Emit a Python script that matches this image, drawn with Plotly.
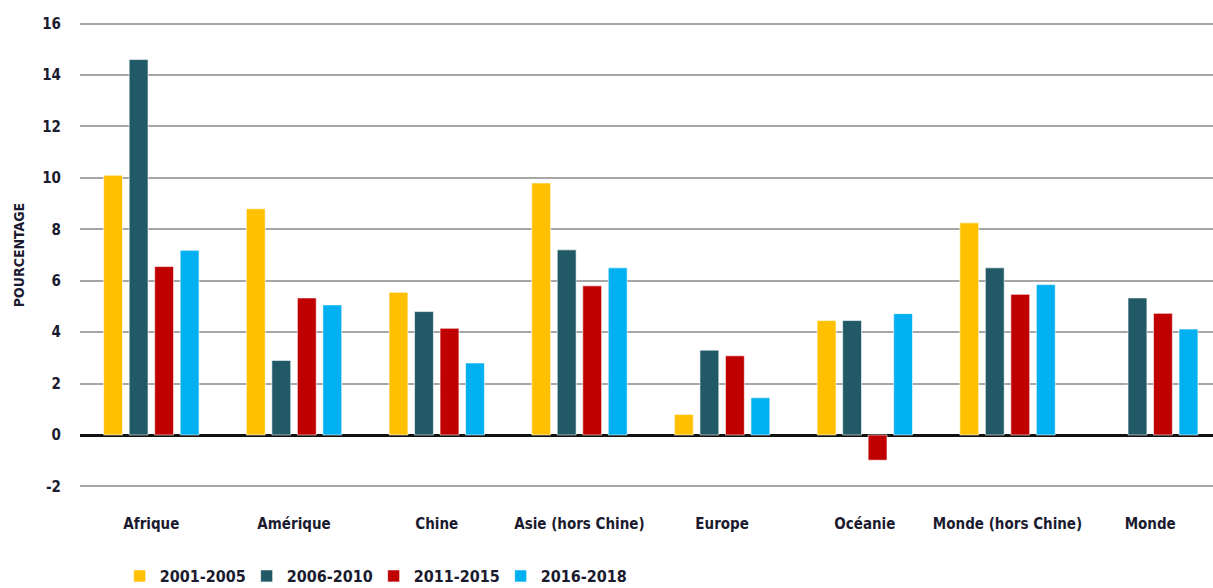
import plotly.graph_objects as go

regions = ["Afrique", "Amérique", "Chine", "Asie (hors Chine)", "Europe",
           "Océanie", "Monde (hors Chine)", "Monde"]
p2001_2005 = [10.1, 8.8, 5.55, 9.8, 0.8, 4.45, 8.25, None]
p2006_2010 = [14.6, 2.9, 4.8, 7.2, 3.3, 4.45, 6.5, 5.33]
p2011_2015 = [6.55, 5.33, 4.15, 5.8, 3.08, -0.98, 5.47, 4.73]
p2016_2018 = [7.18, 5.06, 2.8, 6.5, 1.45, 4.72, 5.85, 4.12]

y_tick_values = [-2, 0, 2, 4, 6, 8, 10, 12, 14, 16]
y_tick_labels = ["-2", "0", "2", "4", "6", "8", "10", "12", "14", "16"]

series = [
    ("2001-2005", p2001_2005, "#FFC000"),
    ("2006-2010", p2006_2010, "#215967"),
    ("2011-2015", p2011_2015, "#C00000"),
    ("2016-2018", p2016_2018, "#00B0F0"),
]

font_family = "DejaVu Sans Condensed, Liberation Sans Narrow, Arial Narrow, sans-serif"
text_color = "#1b1b2f"

fig = go.Figure()
for name, vals, color in series:
    fig.add_trace(go.Bar(
        x=regions, y=vals, name=name,
        marker=dict(color=color, line=dict(color="rgba(255,255,255,0.6)", width=1)),
    ))

fig.update_layout(
    width=1213, height=588,
    margin=dict(l=80, r=0, t=21, b=99, autoexpand=False),
    paper_bgcolor="white", plot_bgcolor="white",
    barmode="group", bargap=0.285, bargroupgap=0.26,
    font=dict(family=font_family, color=text_color, size=15),
    showlegend=True,
    legend=dict(
        orientation="h", x=0.035, xanchor="left", y=-0.186, yanchor="middle",
        font=dict(family=font_family, size=16, color=text_color, weight="bold"),
        entrywidth=82, entrywidthmode="pixels", itemwidth=30,
        traceorder="normal", borderwidth=0,
    ),
)

fig.update_xaxes(
    type="category", range=[-0.5, 7.44],
    showgrid=False, showline=False, zeroline=False, ticks="",
    tickfont=dict(family=font_family, size=15, color=text_color, weight="bold"),
    ticklabelstandoff=24,
)

fig.update_yaxes(
    range=[-2.1, 16.1], tickmode="array",
    tickvals=y_tick_values, ticktext=y_tick_labels,
    showgrid=True, gridcolor="#A6A6A6", gridwidth=1.5,
    zeroline=True, zerolinecolor="#111111", zerolinewidth=3,
    showline=False, ticks="",
    tickfont=dict(family=font_family, size=15, color=text_color, weight="bold"),
    ticklabelstandoff=18,
    title=dict(text="POURCENTAGE", standoff=14,
               font=dict(family=font_family, size=14, color=text_color, weight="bold")),
)

fig.write_html("out.html")
